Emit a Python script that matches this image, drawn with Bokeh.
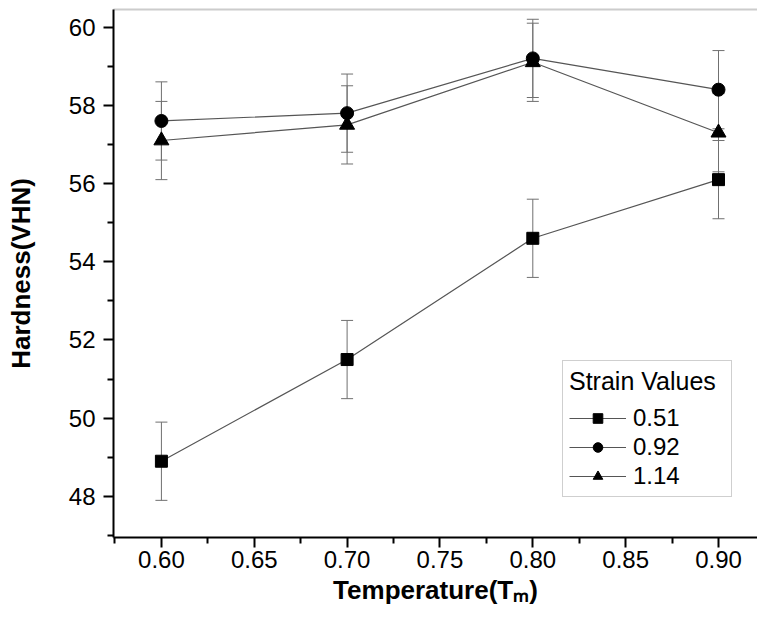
from bokeh.plotting import figure
from bokeh.models import (ColumnDataSource, Whisker, TeeHead, FixedTicker, Legend,
                          LegendItem, LinearAxis, CustomJSTickFormatter)
from bokeh.embed import file_html
from bokeh.resources import INLINE

temperature = [0.60, 0.70, 0.80, 0.90]
strain_labels = ["0.51", "0.92", "1.14"]
hard_051 = [48.9, 51.5, 54.6, 56.1]
hard_092 = [57.6, 57.8, 59.2, 58.4]
hard_114 = [57.1, 57.5, 59.1, 57.3]
err_051 = [1.0, 1.0, 1.0, 1.0]
err_092 = [1.0, 1.0, 1.0, 1.0]
err_114 = [1.0, 1.0, 1.0, 1.0]
x_ticks = [0.60, 0.65, 0.70, 0.75, 0.80, 0.85, 0.90]
x_minor = [0.575, 0.625, 0.675, 0.725, 0.775, 0.825, 0.875]
y_ticks = [48, 50, 52, 54, 56, 58, 60]
y_minor = [47, 49, 51, 53, 55, 57, 59]

FONT = "Liberation Sans"

p = figure(width=757, height=620, output_backend="svg", toolbar_location=None,
           x_range=(0.5742, 0.921), y_range=(46.95, 60.45),
           min_border_left=113, min_border_right=0, min_border_top=9,
           min_border_bottom=83)
p.grid.visible = False
p.outline_line_color = None

series = [(hard_051, err_051, "square", 12), (hard_092, err_092, "circle", 13),
          (hard_114, err_114, "triangle", 15)]
items = []
for (vals, errs, marker, size), lab in zip(series, strain_labels):
    src = ColumnDataSource(dict(x=temperature, y=vals,
                                upper=[v + e for v, e in zip(vals, errs)],
                                lower=[v - e for v, e in zip(vals, errs)]))
    w = Whisker(source=src, base="x", upper="upper", lower="lower",
                line_color="#707070", line_width=1,
                upper_head=TeeHead(size=12, line_color="#707070", line_width=1),
                lower_head=TeeHead(size=12, line_color="#707070", line_width=1))
    p.add_layout(w)
    lr = p.line("x", "y", source=src, line_color="#555555", line_width=1.2)
    sr = p.scatter("x", "y", source=src, marker=marker, size=size,
                   fill_color="black", line_color="black")
    items.append(LegendItem(label=lab, renderers=[lr, sr]))

legend = Legend(items=items, location=(449, 40), title="Strain Values",
                title_text_font=FONT, title_text_font_size="25px",
                title_text_font_style="normal", title_text_color="black",
                title_standoff=8,
                label_text_font=FONT, label_text_font_size="24px",
                label_text_color="black", glyph_width=57, glyph_height=24,
                label_standoff=7, label_width=92, spacing=1, padding=6,
                border_line_color="#a0a0a0", border_line_width=1.5,
                background_fill_alpha=1.0, margin=0)
p.add_layout(legend, "center")

xa = p.below[0]
ya = p.left[0]
xa.ticker = FixedTicker(ticks=x_ticks, minor_ticks=x_minor)
xa.formatter = CustomJSTickFormatter(code="return tick.toFixed(2);")
ya.ticker = FixedTicker(ticks=y_ticks, minor_ticks=y_minor)

for ax in (xa, ya):
    ax.axis_line_color = "black"
    ax.axis_line_width = 2
    ax.major_tick_line_color = "black"
    ax.major_tick_line_width = 2
    ax.minor_tick_line_color = "black"
    ax.minor_tick_line_width = 2
    ax.major_tick_in = 0
    ax.major_tick_out = 10
    ax.minor_tick_in = 0
    ax.minor_tick_out = 6
    ax.major_label_text_font = FONT
    ax.major_label_text_font_size = "24px"
    ax.major_label_text_color = "black"
    ax.axis_label_text_font = FONT
    ax.axis_label_text_font_size = "26px"
    ax.axis_label_text_font_style = "bold"
    ax.axis_label_text_color = "black"

ya.major_label_standoff = 8
xa.major_label_standoff = 3
ya.axis_label = "Hardness(VHN)"
ya.axis_label_standoff = 30
xa.axis_label = "Temperature(T\u2098)"
xa.axis_label_standoff = 4

# light top border
top = LinearAxis(ticker=FixedTicker(ticks=[]), major_label_text_font_size="0px",
                 major_label_standoff=0, major_tick_out=0, minor_tick_out=0,
                 axis_line_color="#cccccc", axis_line_width=2,
                 major_tick_line_color=None, minor_tick_line_color=None)
p.add_layout(top, "above")

open("out.html", "w").write(file_html(p, INLINE))
